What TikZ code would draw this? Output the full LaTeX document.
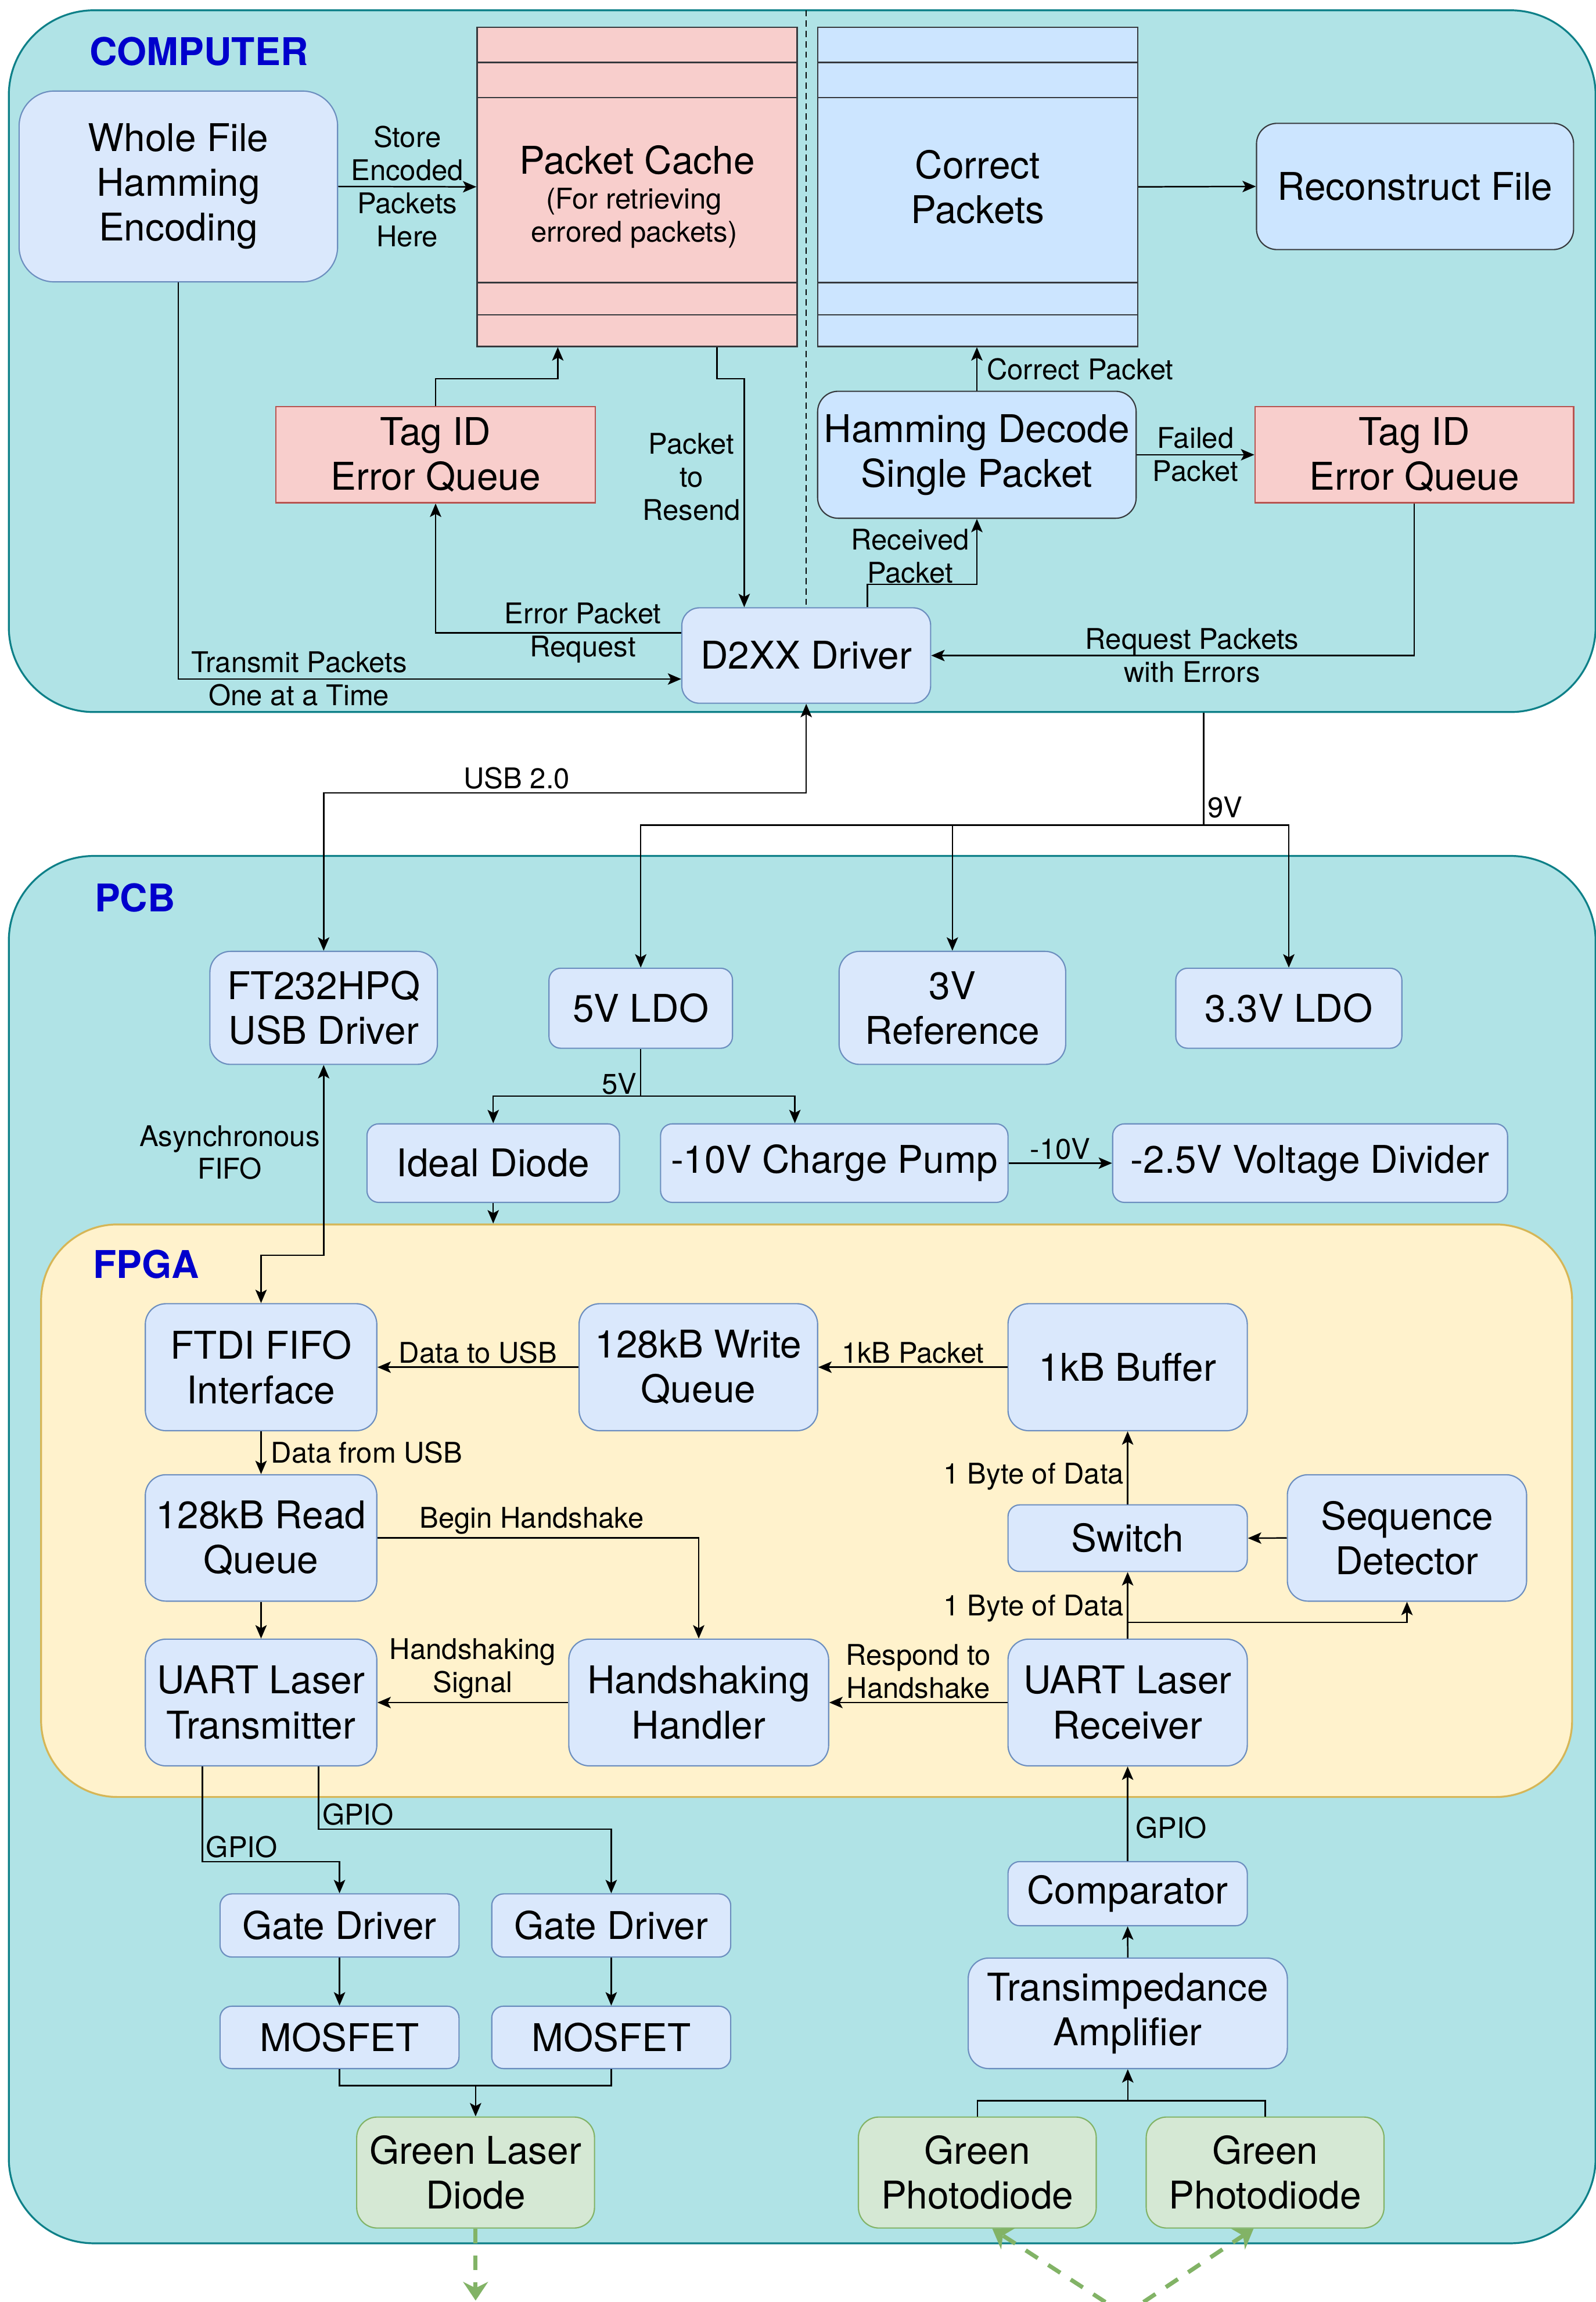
\documentclass[tikz,border=0pt]{standalone}
\usepackage{fontspec}
\setmainfont{TeX Gyre Heros}
\usetikzlibrary{arrows.meta,calc}
\tikzset{>={Stealth[length=6.5pt,width=5.5pt,inset=1.5pt]}}
\definecolor{tealfill}{HTML}{B0E3E6}
\definecolor{tealline}{HTML}{0E8088}
\definecolor{fpgafill}{HTML}{FFF2CC}
\definecolor{fpgaline}{HTML}{D6B656}
\definecolor{bluefill}{HTML}{DAE8FC}
\definecolor{blueline}{HTML}{6C8EBF}
\definecolor{brightblue}{HTML}{CCE5FF}
\definecolor{darkline}{HTML}{36393D}
\definecolor{redfill}{HTML}{F8CECC}
\definecolor{redline}{HTML}{B85450}
\definecolor{greenfill}{HTML}{D5E8D4}
\definecolor{greenline}{HTML}{82B366}
\definecolor{headblue}{HTML}{0000CC}
\newcommand{\boxfont}{\fontsize{18.5}{21.7}\selectfont}
\newcommand{\lblfont}{\fontsize{13.8}{16}\selectfont}
\newcommand{\hdrfont}{\bfseries\fontsize{18.5}{22}\selectfont}
\tikzstyle{container}=[draw=tealline,fill=tealfill,line width=0.9pt,rounded corners=1.45cm]
\tikzstyle{blk}=[rectangle,draw=blueline,fill=bluefill,line width=0.6pt,rounded corners=0.35cm,align=center,inner sep=1pt,font=\boxfont]
\tikzstyle{sblk}=[blk,rounded corners=0.2cm]
\tikzstyle{cblk}=[blk,draw=darkline,fill=brightblue]
\tikzstyle{qbox}=[rectangle,draw=darkline,line width=0.7pt,align=center,font=\boxfont]
\tikzstyle{errbox}=[rectangle,draw=redline,fill=redfill,line width=0.7pt,align=center,inner sep=1pt,font=\boxfont]
\tikzstyle{grnbox}=[blk,draw=greenline,fill=greenfill]
\tikzstyle{lbl}=[align=center,inner sep=1.5pt,font=\lblfont]
\tikzstyle{hdr}=[text=headblue,font=\hdrfont]
\tikzstyle{beam}=[draw=greenline,line width=2pt,dash pattern=on 7pt off 6pt,-{Stealth[length=9pt,width=12pt]}]

\begin{document}
\begin{tikzpicture}[x=0.025cm,y=-0.025cm,line width=0.7pt]
\def\px{0.025cm}
\useasboundingbox (0,0) rectangle (1087,1568);

\node[container,minimum width=1081*\px,minimum height=478*\px] (computer) at (546.5,246) {};
\node[container,minimum width=1081*\px,minimum height=945*\px] (pcb) at (546.5,1055.5) {};
\node[container,draw=fpgaline,fill=fpgafill,rounded corners=1.3cm,minimum width=1043*\px,minimum height=390*\px] (fpga) at (549.5,1029) {};

\node[hdr] (comptitle) at (135.5,35) {COMPUTER};
\node[hdr] (pcbtitle) at (92,611.5) {PCB};
\node[hdr] (fpgatitle) at (99.5,861) {FPGA};

% computer side
\node[blk,rounded corners=0.6cm,minimum width=217*\px,minimum height=130*\px] (whole) at (121.5,127) {Whole File\\Hamming\\Encoding};
\node[qbox,fill=redfill,minimum width=218*\px,minimum height=217.5*\px] (pcache) at (434,127.25) {};
\node[qbox,fill=brightblue,minimum width=218*\px,minimum height=217.5*\px] (correct) at (666,127.25) {Correct\\Packets};
\foreach \yy in {42.5,66.5,192.5,214.5} {
	\coordinate (row) at (0,\yy);
	\draw[darkline] (pcache.west |- row) -- (pcache.east |- row);
	\draw[darkline] (correct.west |- row) -- (correct.east |- row);
};
\node[font=\boxfont] (pcachetxt) at (434,109) {Packet Cache};
\node[lbl] (pcachesub) at (432,148.5) {(For retrieving\\errored packets)};

\node[cblk,minimum width=216*\px,minimum height=86*\px] (recon) at (964,127) {Reconstruct File};
\node[cblk,minimum width=217*\px,minimum height=86.5*\px] (hamdec) at (665.5,309.75) {Hamming Decode\\Single Packet};
\node[errbox,minimum width=217*\px,minimum height=65.5*\px] (tagR) at (963.5,309.75) {Tag ID\\Error Queue};
\node[errbox,minimum width=217.5*\px,minimum height=65.5*\px] (tagL) at (296.75,309.75) {Tag ID\\Error Queue};
\node[blk,rounded corners=0.3cm,minimum width=169.5*\px,minimum height=65*\px] (d2xx) at (549.25,446.5) {D2XX Driver};

\coordinate (sep) at (549,7);
\draw[black,line width=0.6pt,dash pattern=on 3pt off 2pt] (sep) -- (sep |- d2xx.north);

\draw[->] (whole.east) -- node[lbl] (lstore) {Store\\Encoded\\Packets\\Here} (pcache.west);
\draw[->] (correct.east) -- (recon.west);
\draw[->] (hamdec.north) -- node[lbl,right=3pt] (lcorrect) {Correct Packet} (hamdec.north |- correct.south);
\draw[->] (hamdec.east) -- node[lbl] (lfailed) {Failed\\Packet} (tagR.west);

\coordinate (rcv) at (591,398);
\draw[->] (rcv |- d2xx.north) -- (rcv) -| (hamdec.south);
\node[lbl] (lrcv) at (620,379) {Received\\Packet};

\draw[->] (tagR.south) |- node[lbl,pos=0.73] (lreq) {Request Packets\\with Errors} (d2xx.east);

\coordinate (cacheup) at (380,258);
\draw[->] (tagL.north) |- (cacheup) -- (cacheup |- pcache.south);

\coordinate (rs1) at (488.5,258);
\coordinate (rs2) at (507,258);
\draw[->] (rs1 |- pcache.south) -- (rs1) -- (rs2) -- node[lbl,left,pos=0.43] (lresend) {Packet\\to\\Resend} (rs2 |- d2xx.north);

\coordinate (errreq) at (300,431);
\draw[->] (errreq -| d2xx.west) -| node[lbl,pos=0.2] (lerr) {Error Packet\\Request} (tagL.south);

\coordinate (sendrow) at (0,462.5);
\draw[->] (whole.south) |- node[lbl,pos=0.62] (lsend) {Transmit Packets\\One at a Time} (sendrow -| d2xx.west);

% pcb
\node[blk,minimum width=155*\px,minimum height=77*\px] (ft232) at (220.5,686.5) {FT232HPQ\\USB Driver};
\node[sblk,minimum width=125*\px,minimum height=54.5*\px] (ldo5) at (436.5,686.75) {5V LDO};
\node[blk,minimum width=154.4*\px,minimum height=77*\px] (ref3) at (648.8,686.5) {3V\\Reference};
\node[sblk,minimum width=154*\px,minimum height=54.5*\px] (ldo33) at (878,686.75) {3.3V LDO};
\node[sblk,minimum width=172*\px,minimum height=53.5*\px] (diode) at (336,792.25) {Ideal Diode};
\node[sblk,minimum width=236.7*\px,minimum height=53.5*\px] (pump) at (568.35,792.25) {-10V Charge Pump};
\node[sblk,minimum width=269*\px,minimum height=53.5*\px] (divider) at (892.5,792.25) {-2.5V Voltage Divider};

\coordinate (usbrow) at (0,540);
\draw[<->] (ft232.north) |- node[lbl,above,pos=0.7] (lusb) {USB 2.0} (usbrow -| d2xx.south) -- (d2xx.south);

\coordinate (v9) at (820,562);
\draw (v9 |- computer.south) -- node[lbl,right,pos=0.84] (l9v) {9V} (v9);
\draw[->] (v9) -| (ldo5.north);
\draw[->] (v9) -| (ldo33.north);
\draw[->] (v9 -| ref3.north) -- (ref3.north);

\coordinate (v5) at (436.5,746.5);
\coordinate (pumpin) at (541.5,746.5);
\draw (ldo5.south) -- node[lbl,left,pos=0.74] (l5v) {5V} (v5);
\draw[->] (v5) -| (diode.north);
\draw[->] (v5) -- (pumpin) -- (pumpin |- pump.north);
\draw[->] (pump.east) -- node[lbl,above] (l10v) {-10V} (divider.west);
\draw[->] (diode.south) -- (diode.south |- fpga.north);

% fpga
\node[blk,minimum width=157.7*\px,minimum height=86.5*\px] (ftdi) at (177.85,931.25) {FTDI FIFO\\Interface};
\node[blk,minimum width=162.5*\px,minimum height=86.5*\px] (wq) at (475.75,931.25) {128kB Write\\Queue};
\node[blk,minimum width=163*\px,minimum height=86.5*\px] (buf) at (768.2,931.25) {1kB Buffer};
\node[blk,minimum width=157.7*\px,minimum height=86.1*\px] (rq) at (177.85,1047.55) {128kB Read\\Queue};
\node[sblk,minimum width=163*\px,minimum height=45.4*\px] (sw) at (768.2,1047.7) {Switch};
\node[blk,minimum width=163*\px,minimum height=86.1*\px] (seq) at (958.5,1047.55) {Sequence\\Detector};
\node[blk,minimum width=157.7*\px,minimum height=86.3*\px] (tx) at (177.85,1159.65) {UART Laser\\Transmitter};
\node[blk,minimum width=177*\px,minimum height=86.3*\px] (hs) at (476,1159.65) {Handshaking\\Handler};
\node[blk,minimum width=163*\px,minimum height=86.3*\px] (rx) at (768.2,1159.65) {UART Laser\\Receiver};

\coordinate (fiforow) at (0,855);
\draw[<->] (ft232.south) |- node[lbl,left,pos=0.23] (lfifo) {Asynchronous\\FIFO} (fiforow -| ftdi.north) -- (ftdi.north);

\draw[->] (wq.west) -- node[lbl,above] (ltousb) {Data to USB} (ftdi.east);
\draw[->] (buf.west) -- node[lbl,above] (lpkt) {1kB Packet} (wq.east);
\draw[->] (ftdi.south) -- node[lbl,right=3pt] (lfromusb) {Data from USB} (rq.north);
\draw[->] (rq.east) -| node[lbl,above,pos=0.24] (lbegin) {Begin Handshake} (hs.north);
\draw[->] (rq.south) -- (tx.north);
\draw[->] (hs.west) -- node[lbl,above] (lhsig) {Handshaking\\Signal} (tx.east);
\draw[->] (rx.west) -- node[lbl,above] (lresp) {Respond to\\Handshake} (hs.east);
\draw[->] (sw.north) -- node[lbl,left,pos=0.38] (lbyte1) {1 Byte of Data} (buf.south);
\draw[->] (seq.west) -- (sw.east);
\coordinate (split) at (768.2,1105);
\draw[->] (rx.north) -- node[lbl,left,pos=0.45] (lbyte2) {1 Byte of Data} (sw.south);
\draw[->] (split) -| (seq.south);

% receiver chain
\node[sblk,minimum width=163*\px,minimum height=43.7*\px] (comp) at (768.2,1289.85) {Comparator};
\node[blk,minimum width=217.4*\px,minimum height=75.3*\px] (tia) at (768.3,1371.35) {Transimpedance\\Amplifier};
\foreach \i/\xc in {1/665.8,2/861.85} {
	\node[grnbox,minimum width=162*\px,minimum height=75.6*\px] (pd\i) at (\xc,1479.8) {Green\\Photodiode};
};
\draw[->] (comp.north) -- node[lbl,right=2pt,pos=0.35] (lgpio3) {GPIO} (rx.south);
\draw[->] (tia.north) -- (comp.south);
\coordinate (pdjoin) at (768.3,1430.8);
\draw (pd1.north) |- (pdjoin);
\draw (pd2.north) |- (pdjoin);
\draw[->] (pdjoin) -- (tia.south);

% transmitter chain
\foreach \i/\xc in {1/231.3,2/416.4} {
	\node[sblk,minimum width=162.8*\px,minimum height=43*\px] (gd\i) at (\xc,1311.5) {Gate Driver};
	\node[sblk,minimum width=162.8*\px,minimum height=42.5*\px] (mos\i) at (\xc,1387.75) {MOSFET};
	\draw[->] (gd\i) -- (mos\i);
};
\node[grnbox,minimum width=162*\px,minimum height=75.6*\px] (laser) at (324,1479.8) {Green Laser\\Diode};
\coordinate (g1) at (137.8,1268);
\coordinate (g2) at (217,1246);
\draw[->] (g1 |- tx.south) -- (g1) -| (gd1.north);
\draw[->] (g2 |- tx.south) -- (g2) -| (gd2.north);
\node[lbl,anchor=south west] (lgpio1) at (g1) {GPIO};
\node[lbl,anchor=south west] (lgpio2) at (g2) {GPIO};
\coordinate (laserjoin) at (324,1420.6);
\draw (mos1.south) |- (laserjoin);
\draw (mos2.south) |- (laserjoin);
\draw[->] (laserjoin) -- (laser.north);

% light
\coordinate (beamL) at (753,1568);
\coordinate (beamR) at (779,1568);
\coordinate (hitL) at (676,0);
\coordinate (hitR) at (854,0);
\coordinate (laserout) at (324,1567);
\draw[beam] (beamL) -- (hitL |- pd1.south);
\draw[beam] (beamR) -- (hitR |- pd2.south);
\draw[beam] (laser.south) -- (laserout);

\end{tikzpicture}
\end{document}
